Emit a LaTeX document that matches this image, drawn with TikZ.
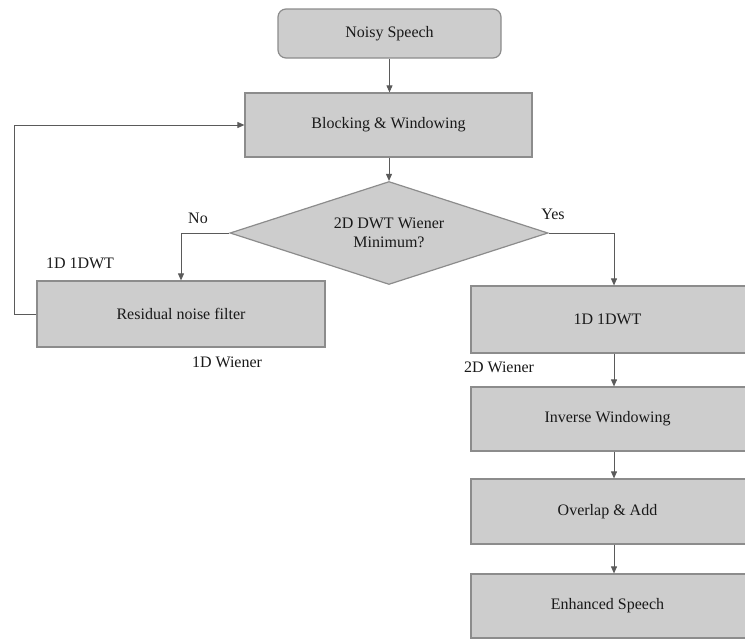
\documentclass[tikz,border=0pt]{standalone}
\usepackage{fontspec}
\setmainfont{Liberation Serif}
\usetikzlibrary{shapes.geometric,arrows.meta}
\definecolor{boxfill}{RGB}{205,205,205}
\definecolor{boxline}{RGB}{140,140,140}
\definecolor{lineclr}{RGB}{90,90,90}
\tikzset{
  blk/.style={draw=boxline, line width=1.2pt, fill=boxfill, inner sep=0pt,
    font=\fontsize{16}{19}\selectfont, text=black!90},
  lbl/.style={font=\fontsize{16}{19}\selectfont, text=black!90, inner sep=0pt},
  arr/.style={draw=lineclr, line width=0.9pt, -{Triangle[length=7pt,width=6pt]}},
}
\begin{document}
\begin{tikzpicture}[x=1pt,y=-1pt]
\useasboundingbox (0,0) rectangle (745,640);
\node[blk, rounded corners=8pt, minimum width=223pt, minimum height=49pt] (ns) at (389.5,33.5) {Noisy Speech};
\node[blk, minimum width=287pt, minimum height=64pt] (bw) at (388.5,125) {Blocking \& Windowing};
\node[blk, shape=diamond, aspect=3.09, minimum width=318pt, minimum height=103pt, align=center] (dec) at (389,233) {2D DWT Wiener\\Minimum?};
\node[blk, minimum width=288pt, minimum height=66pt] (rn) at (181,314) {Residual noise filter};
\node[blk, minimum width=286pt, minimum height=67pt] (d1) at (614,319.5) {};
\node[lbl] (d1t) at (607.5,319.5) {1D 1DWT};
\node[blk, minimum width=286pt, minimum height=64pt] (iw) at (614,419) {};
\node[lbl] (iwt) at (607.5,419) {Inverse Windowing};
\node[blk, minimum width=286pt, minimum height=65pt] (oa) at (614,511.5) {};
\node[lbl] (oat) at (607.5,511.5) {Overlap \& Add};
\node[blk, minimum width=286pt, minimum height=64pt] (es) at (614,606) {};
\node[lbl] (est) at (607.5,606) {Enhanced Speech};

\node[lbl] (no) at (198,218) {No};
\node[lbl] (yes) at (553,214) {Yes};
\node[lbl] (l1) at (80,263) {1D 1DWT};
\node[lbl] (l2) at (227,362) {1D Wiener};
\node[lbl] (l3) at (499,367) {2D Wiener};

\coordinate (fb) at (14,0);
\draw[arr] (ns.south) -- (bw.north -| ns.south);
\draw[arr] (bw.south -| dec.north) -- (dec.north);
\draw[arr] (dec.west) -| (rn.north);
\draw[arr] (dec.east) -| (d1.north);
\draw[arr] (rn.west) -- (rn.west -| fb) -- (bw.west -| fb) -- (bw.west);
\draw[arr] (d1.south) -- (iw.north);
\draw[arr] (iw.south) -- (oa.north);
\draw[arr] (oa.south) -- (es.north);
\end{tikzpicture}
\end{document}
